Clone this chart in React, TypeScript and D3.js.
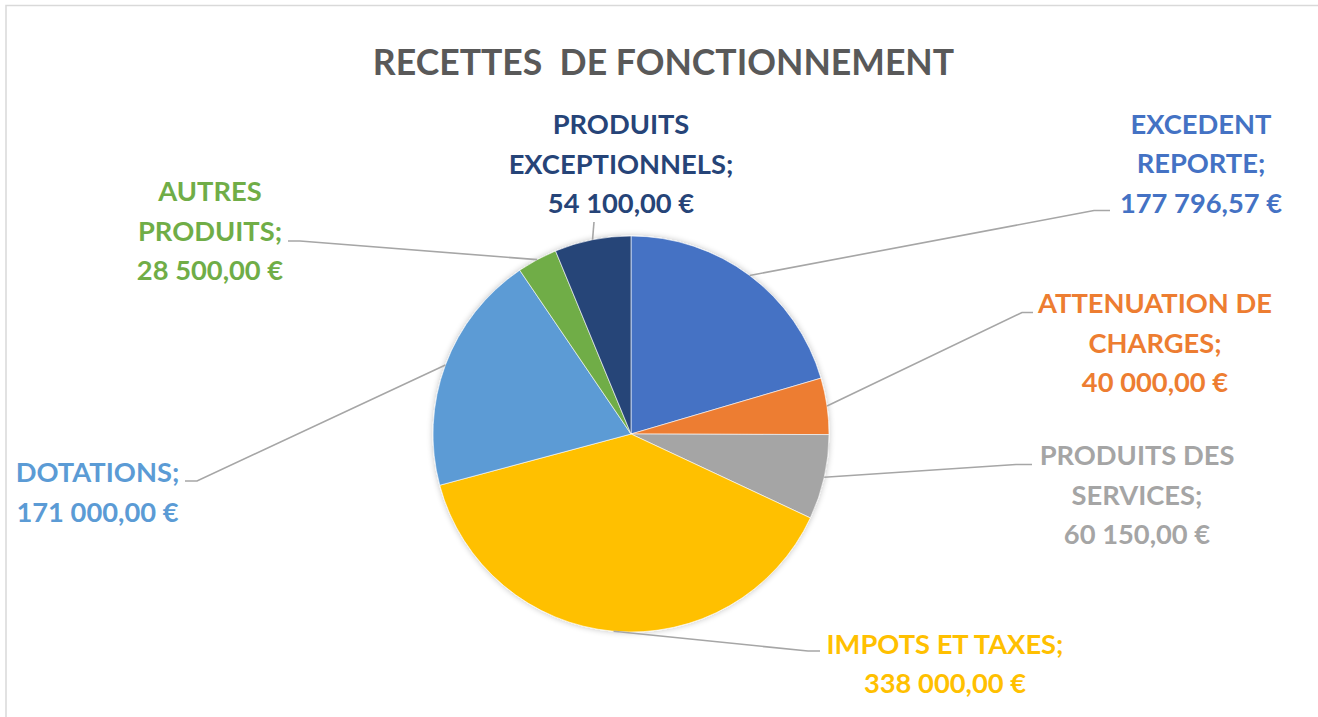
import React from "react";
import * as d3 from "d3";

const title = "RECETTES  DE FONCTIONNEMENT";
const categories = [
  "EXCEDENT REPORTE",
  "ATTENUATION DE CHARGES",
  "PRODUITS DES SERVICES",
  "IMPOTS ET TAXES",
  "DOTATIONS",
  "AUTRES PRODUITS",
  "PRODUITS EXCEPTIONNELS",
];
const values = [177796.57, 40000, 60150, 338000, 171000, 28500, 54100];
const colors = ["#4472C4", "#ED7D31", "#A5A5A5", "#FFC000", "#5B9BD5", "#70AD47", "#264478"];

// label layout (line breaks of names, anchor centre, first baseline, leader knee & end)
const nameLines = [
  ["EXCEDENT", "REPORTE;"],
  ["ATTENUATION DE", "CHARGES;"],
  ["PRODUITS DES", "SERVICES;"],
  ["IMPOTS ET TAXES;"],
  ["DOTATIONS;"],
  ["AUTRES", "PRODUITS;"],
  ["PRODUITS", "EXCEPTIONNELS;"],
];
const labelPos = [
  { cx: 1201, y: 133.5 },
  { cx: 1155, y: 313 },
  { cx: 1137, y: 465 },
  { cx: 945, y: 653.5 },
  { cx: 97.5, y: 482 },
  { cx: 210, y: 201 },
  { cx: 621, y: 134 },
];
const leaderPts: [number, number][][] = [
  [[1094, 210.5], [1110, 210.5]],
  [[1022, 312.5], [1033, 312.5]],
  [[1016, 464.5], [1032, 464.5]],
  [[808, 651], [820, 651]],
  [[197, 481], [185, 481]],
  [[300, 241], [288, 241]],
  [[594, 222]],
];

const W = 1318;
const H = 717;
const CX = 631;
const CY = 434;
const R = 198;
const FONT = "Lato, 'Open Sans', sans-serif";
const LINE_H = 39.5;

const locale = d3.formatLocale({
  decimal: ",",
  thousands: "\u00a0",
  grouping: [3],
  currency: ["", "\u00a0€"],
});
const fmt = locale.format("$,.2f");

export default function App() {
  const pie = d3.pie<number>().sort(null).value((d) => d)(values);
  const arc = d3.arc<d3.PieArcDatum<number>>().innerRadius(0).outerRadius(R);

  return (
    <svg
      width={W}
      height={H}
      style={{ position: "absolute", left: 0, top: 0, background: "#fff" }}
    >
      <defs>
        <filter id="sh" x="-20%" y="-20%" width="140%" height="140%">
          <feGaussianBlur in="SourceAlpha" stdDeviation="3" />
          <feOffset dx="0" dy="0" result="b" />
          <feComponentTransfer>
            <feFuncA type="linear" slope="0.25" />
          </feComponentTransfer>
          <feMerge>
            <feMergeNode />
            <feMergeNode in="SourceGraphic" />
          </feMerge>
        </filter>
      </defs>
      <rect x={6} y={5.5} width={W + 20} height={H + 20} fill="#fff" stroke="#d9d9d9" strokeWidth={1.5} />
      <text
        x={663.5}
        y={75}
        textAnchor="middle"
        fontFamily={FONT}
        fontWeight={700}
        fontSize={35.6}
        fill="#595959"
        style={{ whiteSpace: "pre" }}
      >
        {title}
      </text>
      <g transform={`translate(${CX},${CY})`} filter="url(#sh)">
        {pie.map((p, i) => (
          <path key={i} d={arc(p) || ""} fill={colors[i]} stroke="#fff" strokeWidth={0.6} />
        ))}
      </g>
      {pie.map((p, i) => {
        const a = (p.startAngle + p.endAngle) / 2;
        const sx = CX + R * Math.sin(a);
        const sy = CY - R * Math.cos(a);
        const pts = [[sx, sy], ...leaderPts[i]] as [number, number][];
        return (
          <path
            key={"l" + i}
            d={d3.line()(pts) || ""}
            fill="none"
            stroke="#a6a6a6"
            strokeWidth={1.6}
          />
        );
      })}
      {categories.map((c, i) => {
        const lines = [...nameLines[i], fmt(values[i])];
        return (
          <text
            key={"t" + i}
            textAnchor="middle"
            fontFamily={FONT}
            fontWeight={700}
            fontSize={27.3}
            fill={colors[i]}
          >
            {lines.map((ln, j) => (
              <tspan key={j} x={labelPos[i].cx} y={labelPos[i].y + j * LINE_H}>
                {ln}
              </tspan>
            ))}
          </text>
        );
      })}
    </svg>
  );
}
